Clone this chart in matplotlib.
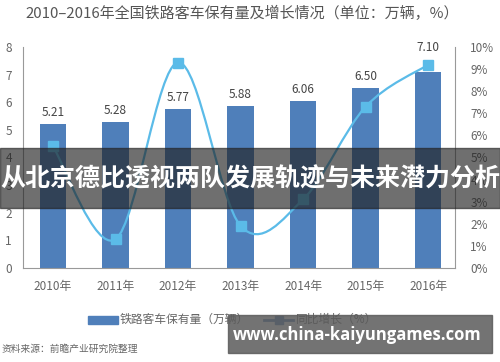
import numpy as np
import matplotlib.pyplot as plt
from matplotlib.path import Path
from matplotlib.patches import PathPatch, Rectangle

plt.rcParams['font.family'] = ['Noto Sans CJK SC', 'DejaVu Sans']

years = ['2010年', '2011年', '2012年', '2013年', '2014年', '2015年', '2016年']
stock = [5.21, 5.28, 5.77, 5.88, 6.06, 6.50, 7.10]
growth = [5.5, 1.3, 9.3, 1.9, 3.1, 7.3, 9.2]
left_ticks = [0, 1, 2, 3, 4, 5, 6, 7, 8]
right_ticks = [0, 1, 2, 3, 4, 5, 6, 7, 8, 9, 10]

BAR = '#4f7fba'
LINE = '#5bbbe8'
GREY = '#666666'


def smooth_path(xs, ys):
    # Catmull-Rom style bezier, like the "smoothed line" option in Excel
    xs = np.asarray(xs, float)
    ys = np.asarray(ys, float)
    verts = [(xs[0], ys[0])]
    codes = [Path.MOVETO]
    n = len(xs)
    for i in range(n - 1):
        p0 = (xs[max(i - 1, 0)], ys[max(i - 1, 0)])
        p1 = (xs[i], ys[i])
        p2 = (xs[i + 1], ys[i + 1])
        p3 = (xs[min(i + 2, n - 1)], ys[min(i + 2, n - 1)])
        c1 = (p1[0] + (p2[0] - p0[0]) / 6, p1[1] + (p2[1] - p0[1]) / 6)
        c2 = (p2[0] - (p3[0] - p1[0]) / 6, p2[1] - (p3[1] - p1[1]) / 6)
        verts += [c1, c2, p2]
        codes += [Path.CURVE4] * 3
    return Path(verts, codes)


def main():
    fig = plt.figure(figsize=(5, 3.62), dpi=100)
    ax = fig.add_axes([0.046, 0.26, 0.864, 0.61])
    x = np.arange(len(years))

    bars = ax.bar(x, stock, width=0.42, color=BAR, zorder=2)
    for i, (b, v) in enumerate(zip(bars, stock)):
        # last label sits higher so the marker does not cover it
        off = 0.65 if i == len(stock) - 1 else 0.18
        ax.text(b.get_x() + b.get_width() / 2, v + off, f'{v:.2f}',
                ha='center', va='bottom', fontsize=8.5, color='#444444')
    ax.set_ylim(0, 8)
    ax.set_xlim(-0.48, 6.43)
    ax.set_yticks(left_ticks)
    ax.set_yticklabels([str(t) for t in left_ticks])
    ax.set_xticks(x)
    ax.set_xticklabels(years)
    ax.tick_params(axis='y', length=0, pad=8, labelsize=8.5, colors=GREY)
    ax.tick_params(axis='x', length=0, pad=9, labelsize=8.5, colors=GREY)
    for s in ['top', 'right']:
        ax.spines[s].set_visible(False)
    for s in ['left', 'bottom']:
        ax.spines[s].set_color('#999999')
        ax.spines[s].set_linewidth(0.8)

    ax2 = ax.twinx()
    ax2.set_ylim(0, 10)
    ax2.set_yticks(right_ticks)
    ax2.set_yticklabels([f'{t}%' for t in right_ticks])
    ax2.tick_params(axis='y', length=0, pad=11, labelsize=8.5, colors=GREY)
    for s in ['top', 'left', 'bottom']:
        ax2.spines[s].set_visible(False)
    ax2.spines['right'].set_color('#999999')
    ax2.spines['right'].set_linewidth(0.8)
    ax2.add_patch(PathPatch(smooth_path(x, growth), facecolor='none',
                            edgecolor=LINE, lw=1.6, zorder=3))
    ax2.plot(x, growth, linestyle='none', marker='s', markersize=7,
             color=LINE, zorder=4)

    fig.text(0.485, 0.963, '2010–2016年全国铁路客车保有量及增长情况（单位：万辆，%）',
             ha='center', va='center', fontsize=10.8, color='#555555')

    # legend
    fig.patches.append(Rectangle((0.175, 0.106), 0.06, 0.022, color=BAR,
                                 transform=fig.transFigure, figure=fig))
    fig.text(0.24, 0.117, '铁路客车保有量（万辆）', ha='left', va='center',
             fontsize=8.5, color=GREY)
    fig.lines.append(plt.Line2D([0.528, 0.586], [0.117, 0.117], color='#4f7fba',
                                lw=2, transform=fig.transFigure, figure=fig))
    fig.lines.append(plt.Line2D([0.557], [0.117], color='#4f7fba', marker='s',
                                markersize=6, transform=fig.transFigure,
                                figure=fig))
    fig.text(0.592, 0.117, '同比增长（%）', ha='left', va='center',
             fontsize=8.5, color=GREY)
    fig.text(0.004, 0.035, '资料来源：前瞻产业研究院整理', ha='left', va='center',
             fontsize=7, color=GREY)

    # overlay banner
    fig.patches.append(Rectangle((0, 0.425), 1, 0.165, color='#222222',
                                 alpha=0.65, transform=fig.transFigure,
                                 figure=fig, zorder=10))
    fig.text(0.5, 0.505, '从北京德比透视两队发展轨迹与未来潜力分析', ha='center',
             va='center', fontsize=18, fontweight='bold', color='white',
             zorder=11)
    fig.patches.append(Rectangle((0.456, 0.025), 0.528, 0.105, color='#5a5a5a',
                                 alpha=0.85, transform=fig.transFigure,
                                 figure=fig, zorder=10))
    fig.text(0.715, 0.075, 'www.china-kaiyungames.com', ha='center',
             va='center', fontsize=12, fontweight='bold', color='white',
             family=['Open Sans', 'DejaVu Sans'], zorder=11)

    fig.savefig('out.png', dpi=100)


if __name__ == '__main__':
    main()
